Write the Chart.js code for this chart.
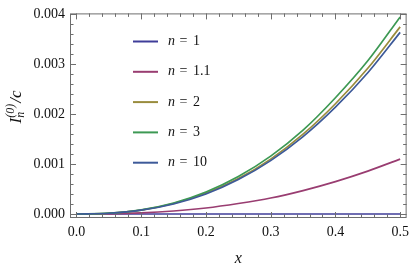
<!DOCTYPE html>
<html><head><meta charset="utf-8">
<script src="https://cdn.jsdelivr.net/npm/chart.js@4/dist/chart.umd.min.js"></script>
<style>html,body{margin:0;padding:0;background:#fff;}#wrap{width:415px;height:269px;position:relative;}</style>
</head><body><div id="wrap"><canvas id="c" width="415" height="269"></canvas></div>
<script>
// ---- data ----
const xValues = [0, 0.05, 0.1, 0.15, 0.2, 0.25, 0.3, 0.35, 0.4, 0.45, 0.5];
const seriesNames = ['1', '1.1', '2', '3', '10'];
const seriesN1   = [0, 0, 0, 0, 0, 0, 0, 0, 0, 0, 0];
const seriesN1_1 = [0, 0.0000045, 0.000023, 0.00006, 0.00012, 0.00021, 0.00032, 0.00047, 0.00065, 0.00086, 0.0011];
const seriesN2   = [0, 0.000015, 0.000079, 0.00021, 0.00042, 0.00071, 0.00110, 0.00160, 0.00221, 0.00292, 0.00375];
const seriesN3   = [0, 0.000016, 0.000083, 0.00022, 0.00044, 0.00075, 0.00116, 0.00168, 0.00233, 0.00307, 0.00395];
const seriesN10  = [0, 0.000015, 0.000076, 0.00020, 0.00040, 0.00069, 0.00107, 0.00155, 0.00214, 0.00283, 0.00364];
const xTickLabels = [0, 0.1, 0.2, 0.3, 0.4, 0.5];
const yTickLabels = [0, 0.001, 0.002, 0.003, 0.004];
const seriesColors = ['#3F3D99', '#993D71', '#998C3D', '#3D9954', '#3D5A99'];

const allSeries = [seriesN1, seriesN1_1, seriesN2, seriesN3, seriesN10];
const datasets = allSeries.map((s, i) => ({
  label: 'n = ' + seriesNames[i],
  data: s.map((v, j) => ({x: xValues[j], y: v})),
  borderColor: seriesColors[i],
  backgroundColor: seriesColors[i],
  borderWidth: 1.7,
  pointRadius: 0,
  cubicInterpolationMode: 'monotone',
  fill: false,
  order: allSeries.length - i
}));

const SERIF = '"Liberation Serif", "DejaVu Serif", serif';
const FRAME = '#6e6e6e';

const framePlugin = {
  id: 'frame',
  afterDatasetsDraw(chart) {
    const {ctx, chartArea: a, scales: {x, y}} = chart;
    ctx.save();
    ctx.strokeStyle = FRAME;
    ctx.lineWidth = 1;
    ctx.strokeRect(a.left + 0.5, a.top + 0.5, a.right - a.left - 1, a.bottom - a.top - 1);
    ctx.beginPath();
    for (let k = 0; k <= 25; k++) {
      const v = k * 0.02;
      const px = Math.round(x.getPixelForValue(v)) + 0.5;
      const len = (k % 5 === 0) ? 6 : 3.5;
      ctx.moveTo(px, a.bottom); ctx.lineTo(px, a.bottom - len);
      ctx.moveTo(px, a.top); ctx.lineTo(px, a.top + len);
    }
    for (let k = 0; k <= 20; k++) {
      const v = k * 0.0002;
      const py = Math.round(y.getPixelForValue(v)) + 0.5;
      const len = (k % 5 === 0) ? 6 : 3.5;
      ctx.moveTo(a.left, py); ctx.lineTo(a.left + len, py);
      ctx.moveTo(a.right, py); ctx.lineTo(a.right - len, py);
    }
    ctx.stroke();
    ctx.restore();
  }
};

const legendPlugin = {
  id: 'innerLegend',
  afterDraw(chart) {
    const {ctx} = chart;
    ctx.save();
    const y0 = 41.5, step = 30.3;
    chart.data.datasets.forEach((ds, i) => {
      const yy = y0 + i * step;
      ctx.strokeStyle = ds.borderColor;
      ctx.lineWidth = 2;
      ctx.beginPath(); ctx.moveTo(133, yy); ctx.lineTo(158, yy); ctx.stroke();
      ctx.fillStyle = '#111';
      ctx.textBaseline = 'middle';
      ctx.textAlign = 'left';
      ctx.font = 'italic 14px ' + SERIF;
      ctx.fillText('n', 168, yy);
      ctx.font = '14px ' + SERIF;
      ctx.fillText('=', 179.5, yy);
      ctx.fillText(seriesNames[i], 193, yy);
    });
    ctx.restore();
  }
};

const yTitlePlugin = {
  id: 'yTitle',
  afterDraw(chart) {
    const {ctx} = chart;
    ctx.save();
    ctx.fillStyle = '#111';
    ctx.textBaseline = 'alphabetic';
    ctx.textAlign = 'left';
    const big = 'italic 17px ' + SERIF, small = 'italic 12px ' + SERIF;
    ctx.font = big; const wI = ctx.measureText('I').width, wC = ctx.measureText('/c').width;
    ctx.font = small; const wN = ctx.measureText('n').width, wS = ctx.measureText('(0)').width;
    const total = wI + Math.max(wN, wS) + 1 + wC;
    ctx.translate(21, 107);
    ctx.rotate(-Math.PI / 2);
    let cx = -total / 2;
    ctx.font = big; ctx.fillText('I', cx, 0); cx += wI;
    ctx.font = small; ctx.fillText('n', cx, 3); ctx.fillText('(0)', cx, -7.5);
    cx += Math.max(wN, wS) + 1;
    ctx.font = big; ctx.fillText('/c', cx, 0);
    ctx.restore();
  }
};

new Chart(document.getElementById('c'), {
  type: 'line',
  data: {datasets},
  options: {
    responsive: false,
    animation: false,
    devicePixelRatio: 1,
    layout: {padding: {top: 7, right: 5, left: 0, bottom: 0}},
    plugins: {legend: {display: false}, tooltip: {enabled: false}},
    scales: {
      x: {
        type: 'linear', min: -0.01, max: 0.51,
        afterBuildTicks: s => { s.ticks = xTickLabels.map(v => ({value: v})); },
        afterFit: s => { s.height = 51; },
        grid: {display: false, drawTicks: false},
        border: {display: false},
        ticks: {padding: 6, color: '#111', font: {family: SERIF, size: 14}, callback: v => Number(v).toFixed(1), maxRotation: 0, autoSkip: false},
        title: {display: true, text: 'x', color: '#111', font: {family: SERIF, size: 16, style: 'italic'}, padding: {top: 0, bottom: 1}}
      },
      y: {
        type: 'linear', min: -0.00008, max: 0.00402,
        afterBuildTicks: s => { s.ticks = yTickLabels.map(v => ({value: v})); },
        afterFit: s => { s.width = 70; },
        grid: {display: false, drawTicks: false},
        border: {display: false},
        ticks: {padding: 5, color: '#111', font: {family: SERIF, size: 14}, callback: v => Number(v).toFixed(3), autoSkip: false}
      }
    }
  },
  plugins: [framePlugin, legendPlugin, yTitlePlugin]
});
</script>
</body></html>
